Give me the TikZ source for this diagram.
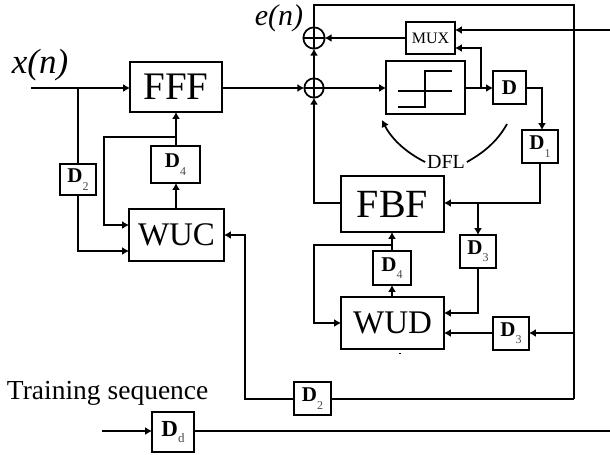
\documentclass[tikz,border=0pt]{standalone}
\usepackage{fontspec}
\setmainfont{Liberation Serif}
\usetikzlibrary{arrows.meta,calc}
\newcommand{\pxfont}[1]{\fontsize{\dimexpr #1pt*3/4\relax}{\dimexpr #1pt*9/10\relax}\selectfont}
\newcommand{\Dsub}[1]{\pxfont{21}\textbf{D}\raisebox{-0.35em}{\pxfont{12}\textcolor{black!70}{#1}}}
\newcommand{\bx}[6]{%
  \pgfmathsetmacro{\cxx}{(#2+#4)/2}\pgfmathsetmacro{\cyy}{(#3+#5)/2}%
  \pgfmathsetmacro{\www}{(#4-#2)*0.75}\pgfmathsetmacro{\hhh}{(#5-#3)*0.75}%
  \node[blockbox,minimum width=\www pt,minimum height=\hhh pt] (#1) at (\cxx,\cyy) {#6};}
\tikzset{
  x=0.75pt,y=-0.75pt,
  wire/.style={line width=1.3pt,line join=miter},
  arr/.style={wire,-{Latex[length=5.2pt,width=6pt]}},
  blockbox/.style={draw,line width=1.3pt,inner sep=0pt,outer sep=0pt,fill=white},
  adder/.style={draw,circle,line width=1.3pt,inner sep=0pt,outer sep=0pt,minimum size=14.5pt},
  lbl/.style={inner sep=0pt,outer sep=0pt}
}
\begin{document}
\begin{tikzpicture}
\useasboundingbox (0,0) rectangle (610,454);
\fill[white] (0,0) rectangle (610,454);
% blocks
\bx{fff}{130}{62}{222}{112}{\pxfont{39}FFF}
\bx{wuc}{129}{209}{224}{261}{\pxfont{33}WUC}
\bx{dfour}{151}{146}{200}{183}{\Dsub{4}}
\bx{dtwo}{60}{164}{96}{195}{\Dsub{2}}
\bx{mux}{406}{22}{455}{54}{\pxfont{16}MUX}
\bx{slicer}{386}{61}{465}{114}{}
\bx{dd}{493}{71}{526}{104}{\pxfont{21}\textbf{D}}
\bx{done}{522}{130}{558}{163}{\Dsub{1}}
\bx{fbf}{341}{176}{444}{232}{\pxfont{40}FBF}
\bx{dthreea}{460}{235}{496}{268}{\Dsub{3}}
\bx{dfourb}{373}{251}{411}{285}{\Dsub{4}}
\bx{wud}{341}{297}{444}{349}{\pxfont{33}WUD}
\bx{dthreeb}{493}{317}{529}{350}{\Dsub{3}}
\bx{dtwob}{294}{382}{331}{415}{\Dsub{2}}
\bx{ddelay}{152}{412}{194}{452}{\pxfont{23}\textbf{D}\raisebox{-0.3em}{\pxfont{13}\textcolor{black!70}{d}}}
% adders
\node[adder] (addb) at (314,88) {};
\node[adder,minimum size=16pt] (adda) at (314,38) {};
\draw[line width=1.3pt] (addb.north) -- (addb.south) (addb.west) -- (addb.east);
\draw[line width=1.3pt] (adda.north) -- (adda.south) (adda.west) -- (adda.east);
% coordinates
\coordinate (xin) at (31,88);
\coordinate (xj) at (78,88);
\coordinate (lfork) at (176,137);
\coordinate (lback) at (104,137);
\coordinate (wucA) at (129,225);
\coordinate (wucB) at (129,251);
\coordinate (wucC) at (224,235);
\coordinate (cornerL) at (245,399);
\coordinate (cornerR) at (574,399);
\coordinate (topL) at (314,5);
\coordinate (topR) at (574,5);
\coordinate (muxR) at (455,30);
\coordinate (muxL) at (455,48);
\coordinate (muxIn) at (610,30);
\coordinate (sj) at (481,88);
\coordinate (dq) at (542,88);
\coordinate (fbfj) at (478,203);
\coordinate (rfork) at (392,245);
\coordinate (wudA) at (341,323);
\coordinate (wudB) at (444,313);
\coordinate (wudC) at (444,333);
\coordinate (rj) at (574,333);
\coordinate (trainIn) at (102,431);
\coordinate (trainOut) at (610,431);
% left part
\draw[arr] (xin) -- (fff.west |- xin);
\draw[wire] (xj) -- (xj |- dtwo.north);
\draw[arr] (dtwo.south) |- (wucB);
\draw[arr] (wuc.north -| lfork) -- (dfour.south -| lfork);
\draw[arr] (dfour.north -| lfork) -- (fff.south -| lfork);
\draw[arr] (lfork) -- (lback) |- (wucA);
\draw[arr] (fff.east |- addb) -- (addb.west);
% training / return
\draw[arr] (dtwob.west |- cornerL) -- (cornerL) |- (wucC);
\draw[wire] (dtwob.east |- cornerR) -- (cornerR);
\draw[wire] (adda.north) -- (topL) -- (topR) -- (cornerR);
\draw[arr] (trainIn) -- (ddelay.west |- trainIn);
\draw[wire] (ddelay.east |- trainOut) -- (trainOut);
% right top
\draw[arr] (addb.north) -- (adda.south);
\draw[arr] (mux.west |- adda) -- (adda.east);
\draw[arr] (muxIn) -- (muxR);
\draw[arr] (sj) |- (muxL);
\draw[arr] (addb.east) -- (slicer.west |- addb);
\draw[arr] (slicer.east |- addb) -- (dd.west |- addb);
\draw[arr] (dd.east |- dq) -- (dq) -- (dq |- done.north);
\draw[arr] (done.south) |- (fbf.east |- fbfj);
\draw[arr] (fbf.west |- fbfj) -- (314,203) -- (addb.south);
\draw[arr] (fbfj) -- (fbfj |- dthreea.north);
\draw[arr] (dthreea.south) |- (wudB);
\draw[arr] (wud.north -| rfork) -- (dfourb.south -| rfork);
\draw[arr] (dfourb.north -| rfork) -- (fbf.south -| rfork);
\draw[arr] (rfork) -- (314,245) |- (wudA);
\draw[arr] (rj) -- (dthreeb.east |- rj);
\draw[arr] (dthreeb.west |- rj) -- (wudC);
% slicer glyph
\draw[wire] (398,91) -- (452,91);
\draw[wire] (398,107) -- (425,107) -- (425,71) -- (452,71);
% DFL
\node[lbl,inner sep=1.5pt] (dfl) at (446,162) {\pxfont{20}DFL};
\coordinate (dflL) at (382,120);
\coordinate (dflR) at (507,124);
\draw[arr] (dfl.west) .. controls (405,152) and (391,138) .. (dflL);
\draw[wire] (dfl.east) .. controls (483,153) and (497,142) .. (dflR);
% labels
\node[lbl] (xn) at (40,65) {\pxfont{35}\itshape x(n)};
\node[lbl] (en) at (279,18) {\pxfont{30}\itshape e(n)};
\node[lbl,anchor=base west] (train) at (7,399) {\pxfont{27.5}Training sequence};
\fill (399,352.6) rectangle (401,353.6);
\end{tikzpicture}
\end{document}
